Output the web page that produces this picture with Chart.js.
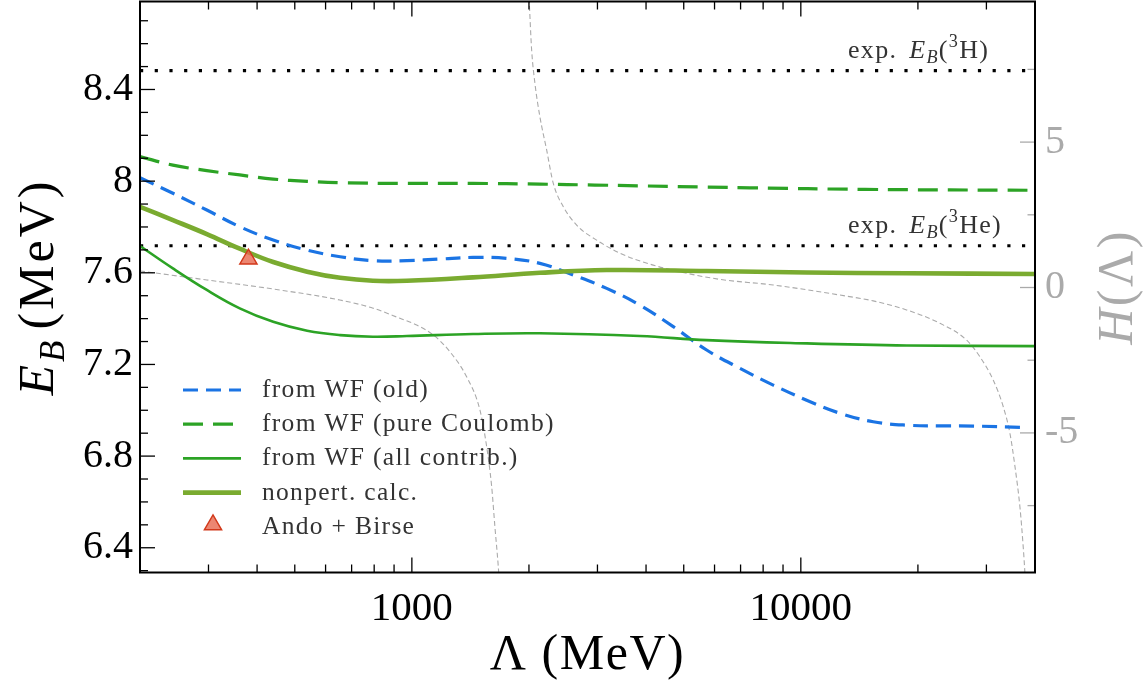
<!DOCTYPE html>
<html>
<head>
<meta charset="utf-8">
<style>
  html, body { margin: 0; padding: 0; background: #fff; }
</style>
<script src="https://cdn.jsdelivr.net/npm/chart.js@4.4.1/dist/chart.umd.min.js"></script>
</head>
<body>
<canvas id="c" width="1147" height="684"></canvas>
<script>
// Triton / helion binding energy vs cutoff, with H(Lambda) on a second axis.

const LAMBDA_OLD = [200, 243, 297, 361, 440, 538, 654, 794, 971, 1181, 1436, 1756, 2134, 2600, 3169, 3857, 4699, 5726, 6973, 8492, 10350, 12606, 15350, 18710, 22790, 27760, 38060];
const EB_OLD     = [8.015, 7.947, 7.874, 7.801, 7.743, 7.699, 7.670, 7.653, 7.653, 7.660, 7.667, 7.663, 7.641, 7.590, 7.532, 7.459, 7.365, 7.263, 7.183, 7.110, 7.044, 6.987, 6.950, 6.935, 6.932, 6.931, 6.925];

const LAMBDA_PURE = [200, 243, 297, 361, 440, 538, 654, 971, 1436, 2134, 2955, 7400, 14620, 40000];
const EB_PURE     = [8.107, 8.070, 8.046, 8.027, 8.009, 7.999, 7.993, 7.990, 7.990, 7.987, 7.983, 7.971, 7.964, 7.960];

const LAMBDA_ALL = [200, 243, 297, 361, 440, 538, 654, 794, 971, 1436, 2134, 3857, 5726, 10350, 18710, 40000];
const EB_ALL     = [7.717, 7.619, 7.525, 7.445, 7.386, 7.347, 7.328, 7.321, 7.324, 7.333, 7.336, 7.324, 7.306, 7.292, 7.283, 7.280];

const LAMBDA_NP = [200, 243, 297, 361, 440, 538, 654, 794, 971, 1436, 2134, 3169, 5726, 10350, 18710, 40000];
const EB_NP     = [7.888, 7.830, 7.769, 7.705, 7.647, 7.605, 7.578, 7.565, 7.565, 7.580, 7.600, 7.612, 7.608, 7.601, 7.598, 7.595];

const LAMBDA_AB = [380];
const EB_AB     = [7.66];

const EXP_3H  = 8.482;
const EXP_3HE = 7.718;

// H(Lambda), two branches between the poles
const LAMBDA_H1 = [200, 297, 439, 653, 795, 932, 1029, 1135, 1253, 1383, 1496, 1557, 1604, 1635, 1668, 1685];
const H_1       = [0.57, 0.26, -0.05, -0.43, -0.71, -1.06, -1.29, -1.63, -2.21, -3.07, -4.21, -5.47, -6.85, -8.23, -9.60, -10.5];
const LAMBDA_H2 = [1990, 2004, 2032, 2072, 2134, 2221, 2310, 2451, 2677, 2986, 3428, 4173, 5087, 6194, 8492, 12606, 15349, 18700, 22790, 26690, 28860, 31230, 33150, 34480, 35530, 36580, 37300, 37680, 37900];
const H_2       = [10.5, 9.77, 8.17, 7.02, 5.87, 4.73, 3.58, 2.78, 2.09, 1.63, 1.18, 0.77, 0.49, 0.28, 0.086, -0.26, -0.46, -0.77, -1.23, -1.81, -2.38, -3.18, -4.10, -5.01, -6.16, -7.54, -8.91, -9.82, -10.5];

const X_RANGE = [200, 40000];
const Y_RANGE = [6.292, 8.784];
const H_RANGE = [-9.8, 9.835];
const X_MAJOR = [1000, 10000];
const Y_MAJOR = [6.4, 6.8, 7.2, 7.6, 8, 8.4];
const H_MAJOR = [-5, 0, 5];
const H_MINOR = [-7.5, -2.5, 2.5, 7.5];

const X_TICKS = [];
for (let d = 100; d <= 10000; d *= 10)
  for (let m = 1; m <= 9; m++) { const v = m * d; if (v > 200 && v < 40000) X_TICKS.push(v); }
const Y_TICKS = [];
for (let k = 63; k <= 87; k++) Y_TICKS.push(k / 10);

const BLUE = '#1b74e4', GREEN = '#2ca325', OLIVE = '#7aab30', GREY = '#aaaaaa';
const SERIF = '"Liberation Serif", "Times New Roman", serif';

const pts = (xs, ys) => xs.map((x, i) => ({ x, y: ys[i] }));
const isIn = (arr, v) => arr.some(m => Math.abs(m - v) < 1e-6);

function hLine(v) {
  return { data: pts(X_RANGE, [v, v]), yAxisID: 'y', borderColor: '#000', borderWidth: 3.2,
           borderDash: [3.2, 11.5], pointRadius: 0, order: 5 };
}
function hCurve(xs, ys) {
  return { data: pts(xs, ys), yAxisID: 'h', borderColor: GREY, borderWidth: 1.1, borderDash: [5, 3],
           pointRadius: 0, cubicInterpolationMode: 'monotone', order: 6 };
}

// no extra room for tick labels: the plot box fills the fixed margins
function fixBox(prop, size) {
  return s => {
    s[prop] = size;
    s.paddingTop = 0; s.paddingBottom = 0; s.paddingLeft = 0; s.paddingRight = 0;
  };
}

// draw a run of text pieces (italic / sub / sup) from an anchor
function richText(ctx, runs, x, y, size, color, align, rot, spacing) {
  ctx.save();
  ctx.translate(x, y);
  if (rot) ctx.rotate(rot);
  ctx.fillStyle = color;
  ctx.textBaseline = 'alphabetic';
  ctx.textAlign = 'left';
  ctx.letterSpacing = (spacing || 0) + 'px';
  const fontOf = r => (r.it ? 'italic ' : '') + ((r.sub || r.sup) ? size * 0.7 : size) + 'px ' + SERIF;
  let w = 0;
  for (const r of runs) { ctx.font = fontOf(r); w += ctx.measureText(r.t).width + (r.gap || 0); }
  let cx = align === 'center' ? -w / 2 : align === 'right' ? -w : 0;
  for (const r of runs) {
    ctx.font = fontOf(r);
    const dy = r.sub ? size * 0.22 : r.sup ? -size * 0.4 : 0;
    ctx.fillText(r.t, cx, dy);
    cx += ctx.measureText(r.t).width + (r.gap || 0);
  }
  ctx.restore();
}

const frameTicks = {
  id: 'frameTicks',
  afterDatasetsDraw(chart) {
    const { ctx, chartArea: a, scales } = chart;
    const seg = (x1, y1, x2, y2) => { ctx.beginPath(); ctx.moveTo(x1, y1); ctx.lineTo(x2, y2); ctx.stroke(); };
    ctx.save();
    ctx.lineWidth = 1.3;
    ctx.strokeStyle = '#000';
    for (const v of X_TICKS) {
      const px = scales.x.getPixelForValue(v), len = isIn(X_MAJOR, v) ? 15 : 8;
      seg(px, a.bottom, px, a.bottom - len);
      seg(px, a.top, px, a.top + len);
    }
    for (const v of Y_TICKS) {
      const py = scales.y.getPixelForValue(v), len = isIn(Y_MAJOR, v) ? 15 : 8;
      seg(a.left, py, a.left + len, py);
    }
    ctx.strokeStyle = GREY;
    for (const v of H_MAJOR.concat(H_MINOR)) {
      const py = scales.h.getPixelForValue(v), len = isIn(H_MAJOR, v) ? 15 : 7.5;
      seg(a.right, py, a.right - len, py);
    }
    ctx.lineWidth = 2;
    ctx.strokeStyle = '#000';
    ctx.strokeRect(a.left, a.top, a.right - a.left, a.bottom - a.top);
    ctx.restore();
  },
  afterDraw(chart) {
    const { ctx, chartArea: a, scales } = chart;
    const midX = (a.left + a.right) / 2, midY = (a.top + a.bottom) / 2;

    // axis titles
    richText(ctx, [{ t: 'Λ (MeV)' }], midX, 669, 50, '#000', 'center', 0, 1.5);
    richText(ctx, [{ t: 'E', it: true }, { t: 'B', it: true, sub: true, gap: 8 }, { t: '(MeV)' }],
             53, midY, 50, '#000', 'center', -Math.PI / 2, 3);
    richText(ctx, [{ t: 'H', it: true }, { t: '(Λ)' }], 1132, midY, 50, GREY, 'center', -Math.PI / 2, 2.5);

    // experimental values
    const lx = a.left + 708;
    const expRuns = nucl => [{ t: 'exp.', gap: 12 }, { t: 'E', it: true }, { t: 'B', it: true, sub: true },
                             { t: '(' }, { t: '3', sup: true }, { t: nucl + ')' }];
    richText(ctx, expRuns('H'), lx, scales.y.getPixelForValue(EXP_3H) - 13, 26, '#333', 'left', 0, 1.3);
    richText(ctx, expRuns('He'), lx, scales.y.getPixelForValue(EXP_3HE) - 13, 26, '#333', 'left', 0, 1.3);

    // legend
    const items = chart.data.datasets.filter(ds => ds.label);
    items.forEach((ds, i) => {
      const y = a.top + 388.5 + i * 34.2;
      const x0 = a.left + 43, x1 = a.left + 101;
      ctx.save();
      if (ds.pointStyle) {
        ctx.fillStyle = ds.backgroundColor;
        ctx.strokeStyle = ds.borderColor;
        ctx.lineWidth = ds.borderWidth;
        Chart.helpers.drawPoint(ctx, { pointStyle: ds.pointStyle, radius: ds.pointRadius, rotation: 0,
                                      borderWidth: ds.borderWidth }, (x0 + x1) / 2 + 1, y - 2);
      } else {
        ctx.strokeStyle = ds.borderColor;
        ctx.lineWidth = ds.borderWidth;
        ctx.setLineDash(ds.borderDash || []);
        ctx.beginPath(); ctx.moveTo(x0, y); ctx.lineTo(x1, y); ctx.stroke();
      }
      ctx.restore();
      richText(ctx, [{ t: ds.label }], a.left + 122, y + 7, 25.5, '#333', 'left', 0, 1.3);
    });
  }
};

const lineBase = { pointRadius: 0, tension: 0.4, yAxisID: 'y' };

new Chart(document.getElementById('c'), {
  type: 'line',
  data: {
    datasets: [
      { ...lineBase, label: 'from WF (old)', data: pts(LAMBDA_OLD, EB_OLD), borderColor: BLUE,
        borderWidth: 3.2, borderDash: [15, 8], order: 4 },
      { ...lineBase, label: 'from WF (pure Coulomb)', data: pts(LAMBDA_PURE, EB_PURE), borderColor: GREEN,
        borderWidth: 3.2, borderDash: [20, 10], order: 3 },
      { ...lineBase, label: 'from WF (all contrib.)', data: pts(LAMBDA_ALL, EB_ALL), borderColor: GREEN,
        borderWidth: 2.6, order: 2 },
      { ...lineBase, label: 'nonpert. calc.', data: pts(LAMBDA_NP, EB_NP), borderColor: OLIVE,
        borderWidth: 4.6, order: 1 },
      { type: 'scatter', label: 'Ando + Birse', data: pts(LAMBDA_AB, EB_AB), yAxisID: 'y',
        pointStyle: 'triangle', pointRadius: 10, backgroundColor: 'rgba(231,104,78,0.8)',
        borderColor: '#d2391b', borderWidth: 1.4, showLine: false, order: 0 },
      hLine(EXP_3H),
      hLine(EXP_3HE),
      hCurve(LAMBDA_H1, H_1),
      hCurve(LAMBDA_H2, H_2),
    ]
  },
  options: {
    responsive: false,
    animation: false,
    events: [],
    layout: { autoPadding: false, padding: { top: 1.5, left: 0, right: 0, bottom: 0 } },
    plugins: { legend: { display: false }, tooltip: { enabled: false } },
    scales: {
      x: {
        type: 'logarithmic', position: 'bottom', min: X_RANGE[0], max: X_RANGE[1],
        afterBuildTicks: s => { s.ticks = X_MAJOR.map(v => ({ value: v })); },
        afterFit: fixBox('height', 111.5),
        grid: { display: false, drawTicks: false },
        border: { display: false },
        ticks: { callback: v => String(v), color: '#000', padding: 12, maxRotation: 0,
                 font: { family: SERIF, size: 41 } }
      },
      y: {
        type: 'linear', position: 'left', min: Y_RANGE[0], max: Y_RANGE[1],
        afterBuildTicks: s => { s.ticks = Y_MAJOR.map(v => ({ value: v })); },
        afterFit: fixBox('width', 140),
        grid: { display: false, drawTicks: false },
        border: { display: false },
        ticks: { callback: v => String(v), color: '#000', padding: 7,
                 font: { family: SERIF, size: 40 } }
      },
      h: {
        type: 'linear', position: 'right', min: H_RANGE[0], max: H_RANGE[1],
        afterBuildTicks: s => { s.ticks = H_MAJOR.map(v => ({ value: v })); },
        afterFit: fixBox('width', 112),
        grid: { display: false, drawTicks: false },
        border: { display: false },
        ticks: { callback: v => String(v), color: GREY, padding: 10,
                 font: { family: SERIF, size: 40 } }
      }
    }
  },
  plugins: [frameTicks]
});
</script>
</body>
</html>
